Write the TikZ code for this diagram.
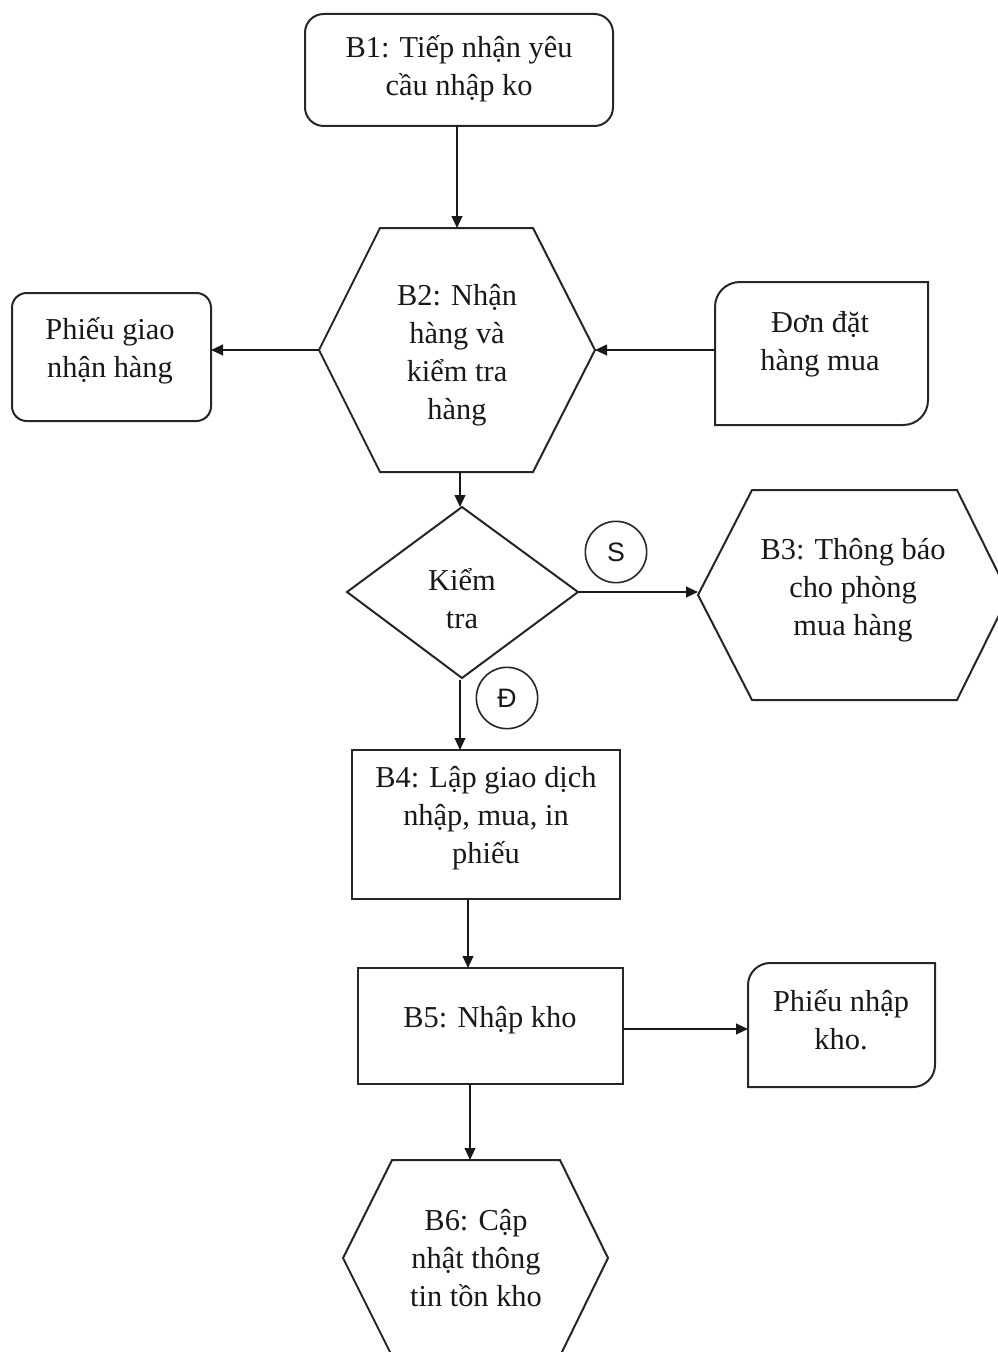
\documentclass[tikz,border=0pt]{standalone}
\usepackage{fontspec}
\setmainfont{Liberation Serif}
\newfontfamily\labelsans{Liberation Sans}
\usetikzlibrary{arrows.meta}
\begin{document}
\begin{tikzpicture}[x=0.75pt,y=-0.75pt,
  shape line/.style={draw=black!85, line width=1.5pt, line join=miter},
  label text/.style={align=center, inner sep=0pt, text=black!90,
    font=\fontsize{22.8}{28.5}\selectfont},
  flow/.style={draw=black!90, line width=1.5pt, -{Triangle[length=9pt,width=8pt]}},
  mark circle/.style={circle, draw=black!85, line width=1.2pt, minimum size=46pt,
    inner sep=0pt, text=black!90, font=\labelsans\fontsize{20}{20}\selectfont}
]
\fill[white] (0,0) rectangle (997,1352);
\useasboundingbox (0,0) rectangle (997,1352);

% ---- shapes ----
% B1: rounded step box
\draw[shape line, rounded corners=14pt] (305,14) rectangle (613,126);
% B2: hexagon
\draw[shape line] (380,228) -- (533,228) -- (595,350) -- (533,472) -- (380,472) -- (319,350) -- cycle;
% delivery slip: rounded document
\draw[shape line, rounded corners=11pt] (12,293) rectangle (211,421);
% purchase order: two rounded corners
\draw[shape line] (715,307) .. controls (715,293) and (726,282) .. (740,282) -- (928,282)
  -- (928,400) .. controls (928,414) and (917,425) .. (903,425) -- (715,425) -- cycle;
% decision
\draw[shape line] (462,507) -- (578,592) -- (462,678) -- (347,592) -- cycle;
% B3: hexagon
\draw[shape line] (752,490) -- (957,490) -- (1009,595) -- (957,700) -- (752,700) -- (698,595) -- cycle;
% B4, B5: process boxes
\draw[shape line] (352,750) rectangle (620,899);
\draw[shape line] (358,968) rectangle (623,1084);
% warehouse receipt: two rounded corners
\draw[shape line] (748,985) .. controls (748,973) and (758,963) .. (770,963) -- (935,963)
  -- (935,1065) .. controls (935,1077) and (925,1087) .. (913,1087) -- (748,1087) -- cycle;
% B6: hexagon
\draw[shape line] (392,1160) -- (560,1160) -- (608,1258) -- (560,1356) -- (392,1356) -- (343,1258) -- cycle;

% ---- texts ----
\node[label text] (b1) at (459,69) {B1: Tiếp nhận yêu\\cầu nhập ko};
\node[label text] (b2) at (457,355) {B2: Nhận\\hàng và\\kiểm tra\\hàng};
\node[label text] (pg) at (110,351) {Phiếu giao\\nhận hàng};
\node[label text] (dd) at (820,344) {Đơn đặt\\hàng mua};
\node[label text] (kt) at (462,599) {Kiểm\\tra};
\node[label text] (b3) at (853,590) {B3: Thông báo\\cho phòng\\mua hàng};
\node[label text] (b4) at (486,818) {B4: Lập giao dịch\\nhập, mua, in\\phiếu};
\node[label text] (b5) at (490,1020) {B5: Nhập kho};
\node[label text] (pn) at (841,1020) {Phiếu nhập\\kho.};
\node[label text] (b6) at (476,1258) {B6: Cập\\nhật thông\\tin tồn kho};

\node[mark circle] (s) at (616,552) {S};
\node[mark circle] (d) at (507,698) {Đ};

% ---- connection points ----
\coordinate (b1-s) at (457,126);
\coordinate (b2-n) at (457,228);
\coordinate (b2-w) at (319,350);
\coordinate (b2-e) at (595,350);
\coordinate (b2-s) at (460,472);
\coordinate (pg-e) at (211,350);
\coordinate (dd-w) at (715,350);
\coordinate (kt-n) at (460,507);
\coordinate (kt-e) at (578,592);
\coordinate (kt-s) at (460,680);
\coordinate (b3-w) at (698,592);
\coordinate (b4-n) at (460,750);
\coordinate (b4-s) at (468,899);
\coordinate (b5-n) at (468,968);
\coordinate (b5-e) at (623,1029);
\coordinate (b5-s) at (470,1084);
\coordinate (pn-w) at (748,1029);
\coordinate (b6-n) at (470,1160);

% ---- connectors ----
\draw[flow] (b1-s) -- (b2-n);
\draw[flow] (b2-w) -- (pg-e);
\draw[flow] (dd-w) -- (b2-e);
\draw[flow] (b2-s) -- (kt-n);
\draw[flow] (kt-e) -- (b3-w);
\draw[flow] (kt-s) -- (b4-n);
\draw[flow] (b4-s) -- (b5-n);
\draw[flow] (b5-e) -- (pn-w);
\draw[flow] (b5-s) -- (b6-n);
\end{tikzpicture}
\end{document}
